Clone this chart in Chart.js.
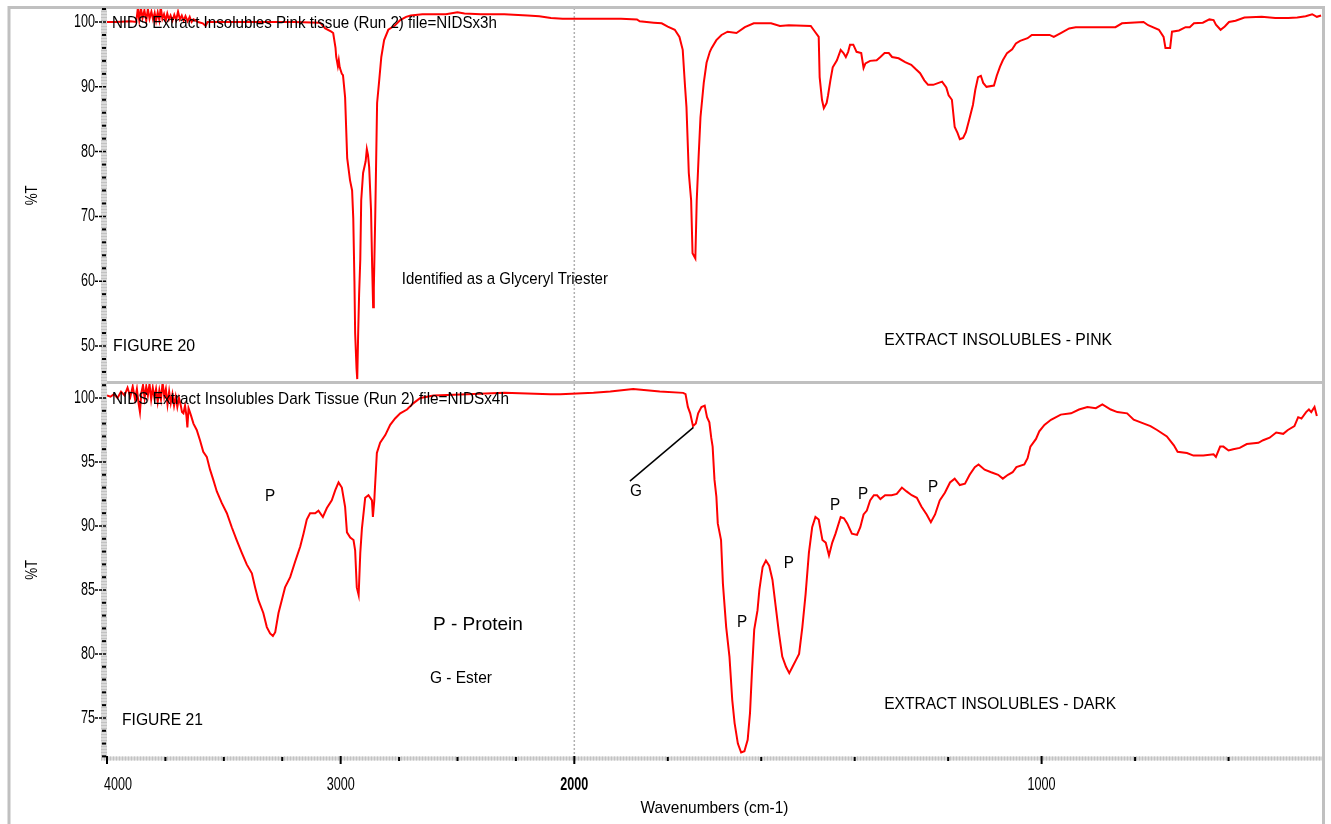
<!DOCTYPE html>
<html>
<head>
<meta charset="utf-8">
<title>NIDS Extract Insolubles - FTIR</title>
<script src="https://cdn.jsdelivr.net/npm/chart.js@4.4.1/dist/chart.umd.min.js"></script>
<style>
  html, body { margin: 0; padding: 0; background: #fff; }
  canvas { display: block; }
</style>
</head>
<body>
<canvas id="irChart" width="1331" height="824"></canvas>
<script>
// Spectrum data (wavenumber cm-1, %T)
const pinkWavenumbers = [
  4000, 3960, 3900, 3875, 3868, 3862, 3855, 3848, 3840, 3832, 3825, 3818, 3810, 3803, 3796, 3790,
  3783, 3776, 3770, 3763, 3756, 3749, 3742, 3735, 3728, 3720, 3712, 3704, 3696, 3688, 3680, 3672,
  3664, 3655, 3646, 3638, 3630, 3610, 3590, 3578, 3570, 3400, 3200, 3088, 3066, 3040, 3032, 3022,
  3019, 3012, 3008, 3004, 2995, 2990, 2981, 2972, 2960, 2951, 2946, 2941, 2938, 2932, 2929, 2925,
  2921, 2916, 2912, 2904, 2893, 2888, 2883, 2878, 2870, 2865, 2861, 2858, 2852, 2844, 2835, 2826,
  2814, 2796, 2767, 2745, 2720, 2700, 2650, 2550, 2500, 2470, 2400, 2300, 2200, 2150, 2100, 2050,
  2000, 1900, 1866, 1860, 1830, 1813, 1800, 1785, 1775, 1768, 1763, 1760, 1755, 1750, 1747, 1741,
  1738, 1734, 1730, 1723, 1717, 1710, 1706, 1696, 1685, 1672, 1653, 1635, 1616, 1579, 1560, 1541,
  1494, 1485, 1477, 1475, 1470, 1466, 1460, 1457, 1452, 1447, 1438, 1430, 1424, 1419, 1414, 1410,
  1403, 1396, 1386, 1381, 1377, 1367, 1353, 1345, 1336, 1327, 1320, 1306, 1292, 1279, 1269, 1260,
  1251, 1243, 1232, 1213, 1204, 1199, 1192, 1186, 1180, 1175, 1168, 1162, 1155, 1147, 1142, 1136,
  1130, 1125, 1118, 1102, 1096, 1089, 1083, 1074, 1063, 1055, 1046, 1030, 1021, 983, 974, 959,
  941, 927, 842, 828, 782, 772, 749, 739, 735, 725, 721, 706, 692, 683, 674, 655,
  641, 632, 627, 617, 608, 599, 585, 566, 529, 500, 472, 453, 435, 421, 411, 402
];
const pinkTransmittance = [
  100.0, 100.0, 100.1, 100.0, 102.1, 100.3, 102.2, 100.6, 101.8, 100.2, 102.0, 100.5, 101.6, 100.4, 101.4, 100.2,
  101.5, 100.3, 102.3, 100.5, 101.2, 100.2, 101.3, 100.4, 101.0, 100.2, 101.1, 100.3, 101.6, 100.4, 101.0, 100.2,
  100.9, 100.1, 100.8, 100.0, 100.4, 100.0, 99.8, 99.4, 100.0, 100.0, 100.0, 99.9, 99.0, 98.5, 98.3, 96.0,
  94.6, 93.2, 94.1, 93.0, 92.0, 91.8, 88.4, 79.0, 75.6, 74.0, 69.7, 60.0, 52.0, 46.5, 44.9, 52.0,
  58.0, 63.3, 72.5, 76.7, 78.5, 80.4, 79.5, 77.6, 71.0, 62.0, 56.0, 59.0, 70.0, 87.5, 91.0, 94.6,
  97.2, 98.8, 99.5, 100.3, 100.8, 101.0, 101.2, 101.2, 101.5, 101.3, 101.2, 101.2, 101.0, 100.9, 100.6, 100.5,
  100.5, 100.5, 100.4, 100.1, 99.9, 99.8, 99.3, 98.8, 97.7, 95.7, 90.0, 86.9, 76.7, 72.5, 64.3, 63.5,
  72.5, 79.2, 85.3, 90.6, 93.7, 95.4, 96.0, 97.2, 98.0, 98.5, 98.3, 99.2, 99.8, 99.8, 99.4, 99.5,
  99.4, 98.5, 97.7, 91.5, 88.0, 86.7, 87.5, 88.7, 91.0, 93.0, 94.1, 95.7, 95.2, 94.6, 95.4, 96.5,
  96.5, 95.4, 95.2, 92.9, 93.6, 94.0, 94.1, 94.6, 95.2, 95.2, 94.6, 94.4, 93.8, 93.4, 92.7, 92.1,
  91.0, 90.3, 90.3, 90.8, 89.9, 88.7, 88.0, 83.8, 82.9, 81.9, 82.1, 83.0, 84.9, 87.2, 89.5, 91.5,
  91.7, 90.6, 90.0, 90.2, 91.7, 93.1, 94.1, 95.2, 95.8, 96.7, 97.1, 97.5, 98.0, 98.0, 97.7, 98.3,
  99.0, 99.2, 99.2, 99.8, 100.0, 99.5, 98.8, 97.7, 96.0, 96.0, 98.5, 98.7, 99.2, 99.2, 99.8, 99.9,
  100.4, 100.3, 99.6, 98.8, 99.3, 100.0, 100.2, 100.7, 100.8, 100.6, 100.6, 100.7, 100.9, 101.2, 100.8, 101.0
];

const darkWavenumbers = [
  4000, 3985, 3970, 3955, 3940, 3925, 3912, 3900, 3890, 3880, 3872, 3865, 3859, 3853, 3846, 3839,
  3832, 3825, 3818, 3811, 3804, 3797, 3790, 3783, 3776, 3769, 3762, 3755, 3748, 3741, 3734, 3727,
  3720, 3713, 3706, 3699, 3692, 3685, 3679, 3673, 3666, 3660, 3656, 3651, 3647, 3640, 3630, 3616,
  3602, 3588, 3573, 3559, 3545, 3530, 3509, 3487, 3466, 3445, 3423, 3402, 3380, 3366, 3352, 3331,
  3316, 3302, 3290, 3280, 3266, 3252, 3238, 3216, 3195, 3173, 3159, 3145, 3131, 3109, 3095, 3076,
  3059, 3038, 3023, 3009, 2995, 2981, 2973, 2959, 2945, 2938, 2931, 2923, 2916, 2909, 2895, 2881,
  2866, 2862, 2856, 2852, 2845, 2831, 2809, 2788, 2767, 2745, 2716, 2688, 2659, 2602, 2459, 2300,
  2103, 2060, 1959, 1923, 1874, 1817, 1767, 1762, 1757, 1752, 1746, 1740, 1735, 1728, 1721, 1716,
  1711, 1707, 1704, 1700, 1696, 1693, 1686, 1682, 1675, 1668, 1662, 1657, 1650, 1643, 1636, 1629,
  1624, 1620, 1615, 1608, 1604, 1597, 1590, 1583, 1576, 1569, 1562, 1555, 1547, 1540, 1533, 1526,
  1519, 1512, 1505, 1498, 1491, 1484, 1477, 1469, 1462, 1455, 1448, 1441, 1430, 1423, 1416, 1406,
  1395, 1388, 1381, 1374, 1367, 1359, 1352, 1345, 1335, 1321, 1310, 1299, 1289, 1278, 1267, 1257,
  1246, 1237, 1228, 1218, 1207, 1196, 1186, 1175, 1164, 1154, 1143, 1135, 1122, 1108, 1093, 1083,
  1072, 1062, 1054, 1037, 1030, 1024, 1012, 1005, 994, 980, 959, 937, 920, 902, 884, 870,
  852, 838, 817, 803, 781, 767, 753, 732, 717, 709, 689, 675, 654, 632, 627, 618,
  611, 600, 590, 576, 561, 536, 526, 512, 498, 483, 473, 459, 451, 444, 434, 428,
  423, 416, 411
];
const darkTransmittance = [
  100.2, 100.1, 100.3, 100.0, 100.5, 100.2, 100.8, 100.1, 100.9, 99.9, 100.7, 99.6, 98.9, 100.4, 101.0, 100.0,
  100.9, 100.2, 101.1, 99.9, 100.8, 100.0, 100.7, 99.7, 100.6, 99.9, 101.2, 100.1, 100.7, 99.5, 100.5, 99.6,
  100.3, 99.4, 100.1, 99.3, 100.0, 99.5, 98.9, 98.8, 99.4, 98.6, 97.7, 99.2, 99.0, 98.6, 98.0, 97.5,
  96.7, 95.8, 95.4, 94.4, 93.6, 92.7, 91.8, 91.0, 89.9, 88.9, 87.9, 87.0, 86.3, 85.2, 84.2, 83.2,
  82.1, 81.6, 81.4, 81.7, 83.2, 84.2, 85.2, 86.0, 87.2, 88.4, 89.4, 90.5, 91.0, 91.0, 91.2, 90.7,
  91.4, 92.0, 92.8, 93.4, 93.0, 91.5, 89.5, 89.1, 88.9, 88.1, 85.2, 84.6, 87.9, 89.8, 92.2, 92.4,
  92.0, 90.7, 92.0, 93.4, 95.7, 96.5, 97.1, 97.9, 98.4, 98.8, 99.1, 99.6, 100.0, 100.2, 100.3, 100.4,
  100.3, 100.3, 100.4, 100.5, 100.7, 100.5, 100.4, 100.3, 99.3, 98.8, 97.8, 98.0, 98.8, 99.3, 99.4, 98.5,
  98.1, 96.9, 96.2, 93.6, 92.3, 90.2, 88.9, 85.5, 82.1, 79.8, 76.4, 74.6, 73.0, 72.3, 72.4, 73.3,
  75.4, 78.5, 81.9, 83.4, 85.0, 86.8, 87.3, 86.9, 85.8, 83.7, 81.6, 79.8, 79.0, 78.5, 79.0, 79.5,
  80.0, 82.1, 84.7, 87.9, 89.9, 90.7, 90.5, 88.9, 88.7, 87.7, 88.7, 89.4, 90.7, 90.6, 90.2, 89.4,
  89.3, 89.9, 90.9, 91.2, 92.0, 92.4, 92.4, 92.1, 92.4, 92.4, 92.5, 93.0, 92.7, 92.4, 92.2, 91.5,
  90.9, 90.3, 90.9, 92.0, 92.6, 93.4, 93.7, 93.2, 93.3, 94.0, 94.6, 94.8, 94.4, 94.2, 94.0, 93.7,
  94.0, 94.2, 94.6, 94.8, 95.3, 96.2, 96.8, 97.4, 97.9, 98.3, 98.7, 98.8, 99.1, 99.3, 99.2, 99.5,
  99.1, 98.9, 98.8, 98.3, 98.0, 97.8, 97.5, 97.0, 96.3, 95.8, 95.7, 95.5, 95.5, 95.6, 95.4, 96.2,
  96.2, 95.9, 96.0, 96.1, 96.4, 96.5, 96.7, 96.9, 97.3, 97.2, 97.5, 97.8, 98.5, 98.4, 98.9, 99.1,
  98.9, 99.3, 98.6
];

// Axis ticks
const xMajorTicks = [4000, 3000, 2000, 1000];
const xMinorTicks = [3750, 3500, 3250, 2750, 2500, 2250, 1800, 1600, 1400, 1200, 800, 600];
const pinkMajorTicks = [50, 60, 70, 80, 90, 100];
const pinkMinorTicks = [46, 48, 52, 54, 56, 58, 62, 64, 66, 68, 72, 74, 76, 78, 82, 84, 86, 88, 92, 94, 96, 98, 102];
const darkMajorTicks = [75, 80, 85, 90, 95, 100];
const darkMinorTicks = [72, 73, 74, 76, 77, 78, 79, 81, 82, 83, 84, 86, 87, 88, 89, 91, 92, 93, 94, 96, 97, 98, 99, 101];

// Annotations placed in data units (wavenumber, %T)
const notes = [
  { axis: 'yTop', text: 'NIDS Extract Insolubles Pink tissue (Run 2) file=NIDSx3h', wn: 3979, t: 99.85, width: 385 },
  { axis: 'yTop', text: 'Identified as a Glyceryl Triester', wn: 2738, t: 60.3, width: 206 },
  { axis: 'yTop', text: 'FIGURE 20', wn: 3974, t: 50.0, width: 82 },
  { axis: 'yTop', text: 'EXTRACT INSOLUBLES - PINK', wn: 1337, t: 50.9, width: 228 },
  { axis: 'yBottom', text: 'NIDS Extract Insolubles Dark Tissue (Run 2) file=NIDSx4h', wn: 3979, t: 99.92, width: 397 },
  { axis: 'yBottom', text: 'P', wn: 3302, t: 92.3, center: true },
  { axis: 'yBottom', text: 'G', wn: 1868, t: 92.7, center: true },
  { axis: 'yBottom', text: 'P', wn: 1641, t: 82.5, center: true },
  { axis: 'yBottom', text: 'P', wn: 1541, t: 87.1, center: true },
  { axis: 'yBottom', text: 'P', wn: 1442, t: 91.6, center: true },
  { axis: 'yBottom', text: 'P', wn: 1382, t: 92.5, center: true },
  { axis: 'yBottom', text: 'P', wn: 1232, t: 93.0, center: true },
  { axis: 'yBottom', text: 'P - Protein', wn: 2605, t: 82.3, width: 90, size: 19 },
  { axis: 'yBottom', text: 'G - Ester', wn: 2618, t: 78.1, width: 62 },
  { axis: 'yBottom', text: 'FIGURE 21', wn: 3936, t: 74.8, width: 81 },
  { axis: 'yBottom', text: 'EXTRACT INSOLUBLES - DARK', wn: 1337, t: 76.1, width: 232 }
];

const FONT = '"Liberation Sans", Arial, sans-serif';
const GRAY = '#c0c0c0';

// The instrument doubles the scale below 2000 cm-1: map wavenumber -> axis units
function toAxis(wn) {
  return wn >= 2000 ? (4000 - wn) / 2 : 3000 - wn;
}

function toPoints(wns, values) {
  return wns.map((wn, i) => ({ x: toAxis(wn), y: values[i] }));
}

// Draw text squeezed horizontally, like the narrow plotter font
function drawText(ctx, text, x, y, opt = {}) {
  ctx.save();
  ctx.font = `${opt.bold ? 'bold ' : ''}${opt.size || 17}px ${FONT}`;
  const natural = ctx.measureText(text).width;
  const squash = opt.width ? opt.width / natural : (opt.squash || 0.82);
  ctx.translate(x, y);
  if (opt.rotate) ctx.rotate(opt.rotate);
  ctx.scale(squash, 1);
  ctx.fillStyle = '#000';
  ctx.textAlign = opt.align || 'left';
  ctx.textBaseline = 'middle';
  ctx.fillText(text, 0, 0);
  ctx.restore();
}

function line(ctx, x1, y1, x2, y2, color, width, dash) {
  ctx.save();
  ctx.strokeStyle = color;
  ctx.lineWidth = width;
  ctx.setLineDash(dash || []);
  ctx.beginPath();
  ctx.moveTo(x1, y1);
  ctx.lineTo(x2, y2);
  ctx.stroke();
  ctx.restore();
}

const spectrumDecor = {
  id: 'spectrumDecor',
  beforeDatasetsDraw(chart) {
    const { ctx, chartArea: a, scales } = chart;
    const x2000 = scales.x.getPixelForValue(toAxis(2000));
    line(ctx, x2000, a.top, x2000, a.bottom, '#b0b0b0', 1.5, [2, 2]);
  },
  afterDatasetsDraw(chart) {
    const { ctx, chartArea: a, scales } = chart;
    const xs = scales.x, yTop = scales.yTop, yBot = scales.yBottom;

    // outer frame and panel separator
    ctx.save();
    ctx.strokeStyle = GRAY;
    ctx.lineWidth = 3;
    ctx.beginPath();
    ctx.moveTo(9, chart.height);
    ctx.lineTo(9, a.top - 0.5);
    ctx.lineTo(a.right + 1.5, a.top - 0.5);
    ctx.lineTo(a.right + 1.5, chart.height);
    ctx.stroke();
    ctx.restore();
    line(ctx, a.left, yTop.bottom, a.right, yTop.bottom, GRAY, 3);

    // axis bands
    line(ctx, a.left - 3, a.top, a.left - 3, a.bottom + 3, '#dadada', 6);
    line(ctx, a.left - 3, a.top, a.left - 3, a.bottom + 3, '#c2c2c2', 6, [1, 2]);
    line(ctx, a.left - 6, a.bottom + 1.5, a.right, a.bottom + 1.5, '#dadada', 4);
    line(ctx, a.left - 6, a.bottom + 1.5, a.right, a.bottom + 1.5, '#c2c2c2', 4, [1, 2]);

    // y ticks and labels for both panels
    [[yTop, pinkMajorTicks, pinkMinorTicks], [yBot, darkMajorTicks, darkMinorTicks]].forEach(([ys, major, minor]) => {
      minor.forEach(v => {
        const y = ys.getPixelForValue(v);
        line(ctx, a.left - 5, y, a.left - 1, y, '#000', 2);
      });
      major.forEach(v => {
        const y = ys.getPixelForValue(v);
        line(ctx, a.left - 12, y, a.left - 1, y, '#000', 1.5, [3, 1]);
        drawText(ctx, String(v), a.left - 12, y, { align: 'right', size: 18, squash: 0.7 });
      });
      drawText(ctx, '%T', 32, (ys.top + ys.bottom) / 2, { align: 'center', width: 20, rotate: -Math.PI / 2 });
    });

    // x ticks and labels
    xMinorTicks.forEach(wn => {
      const x = xs.getPixelForValue(toAxis(wn));
      line(ctx, x, a.bottom, x, a.bottom + 4, '#000', 2);
    });
    xMajorTicks.forEach((wn, i) => {
      const x = xs.getPixelForValue(toAxis(wn));
      line(ctx, x, a.bottom - 1, x, a.bottom + 7, '#000', 2);
      // first label sits just inside the axis start
      drawText(ctx, String(wn), i === 0 ? x - 3 : x, a.bottom + 28, {
        align: i === 0 ? 'left' : 'center', size: 18, squash: 0.7, bold: wn === 2000
      });
    });
    drawText(ctx, 'Wavenumbers (cm-1)', (a.left + a.right) / 2, a.bottom + 51, { align: 'center', width: 148 });

    // leader line for the ester shoulder
    line(ctx, xs.getPixelForValue(toAxis(1881)), yBot.getPixelForValue(93.5),
      xs.getPixelForValue(toAxis(1745)), yBot.getPixelForValue(97.7), '#000', 1.5);

    // annotations
    notes.forEach(n => {
      const ys = scales[n.axis];
      drawText(ctx, n.text, xs.getPixelForValue(toAxis(n.wn)), ys.getPixelForValue(n.t), {
        align: n.center ? 'center' : 'left',
        width: n.width,
        size: n.size,
        squash: 0.9
      });
    });
  }
};

const hidden = {
  grid: { display: false },
  border: { display: false },
  ticks: { display: false }
};

new Chart(document.getElementById('irChart'), {
  type: 'line',
  data: {
    datasets: [
      {
        label: 'Extract insolubles - pink',
        data: toPoints(pinkWavenumbers, pinkTransmittance),
        yAxisID: 'yTop',
        borderColor: '#ff0000',
        borderWidth: 2,
        pointRadius: 0,
        tension: 0
      },
      {
        label: 'Extract insolubles - dark',
        data: toPoints(darkWavenumbers, darkTransmittance),
        yAxisID: 'yBottom',
        borderColor: '#ff0000',
        borderWidth: 2,
        pointRadius: 0,
        tension: 0
      }
    ]
  },
  options: {
    responsive: false,
    animation: false,
    devicePixelRatio: 1,
    layout: { padding: { left: 8, top: 8, right: 9, bottom: 0 } },
    plugins: { legend: { display: false }, tooltip: { enabled: false } },
    scales: {
      x: {
        type: 'linear', min: 0, max: 2600, ...hidden,
        afterFit: s => { s.height = 67; }
      },
      yBottom: {
        type: 'linear', position: 'left', stack: 'panels', stackWeight: 1,
        min: 71.95, max: 101.21, ...hidden,
        afterFit: s => { s.width = 99; }
      },
      yTop: {
        type: 'linear', position: 'left', stack: 'panels', stackWeight: 1,
        min: 44.37, max: 102.16, ...hidden,
        afterFit: s => { s.width = 99; }
      }
    }
  },
  plugins: [spectrumDecor]
});
</script>
</body>
</html>
